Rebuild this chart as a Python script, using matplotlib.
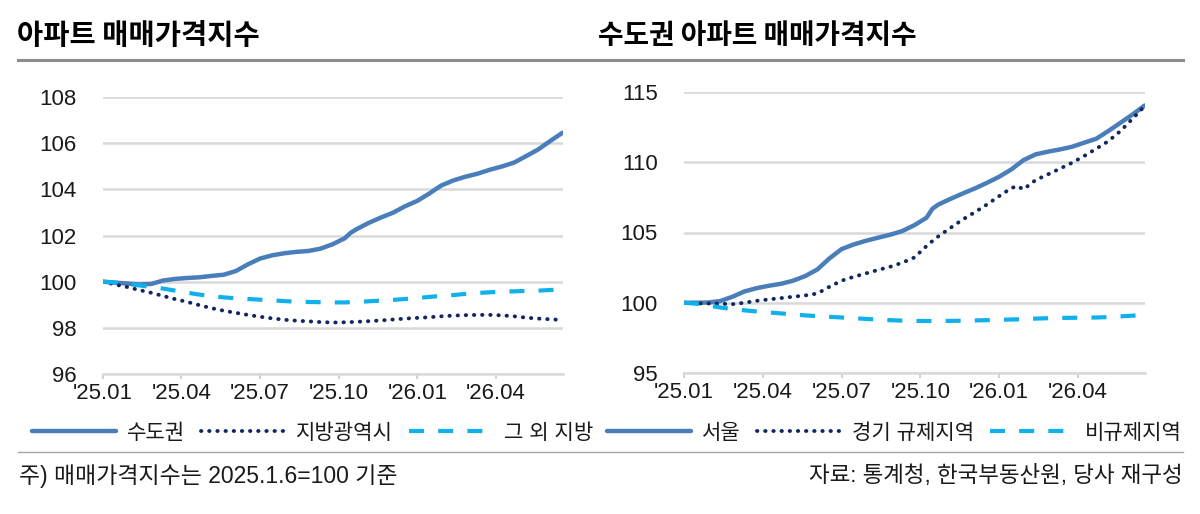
"""
Script to draw the apartment price index charts (nationwide / capital area)
"""

import matplotlib.pyplot as plt
from matplotlib.lines import Line2D

plt.rcParams["font.family"] = ["Liberation Sans", "Noto Sans CJK KR"]

# weeks since 2025-01-06
weeks = [0, 2, 4, 6, 8, 10, 12, 14, 16, 18, 20, 22, 24, 26, 28, 30, 32, 34, 36, 38,
         40, 41, 42, 44, 46, 48, 50, 52, 54, 55, 56, 58, 60, 62, 64, 66, 68, 70, 72, 74, 76]
tick_weeks = [0, 13, 26, 39, 52, 65]
tick_labels = ["'25.01", "'25.04", "'25.07", "'25.10", "'26.01", "'26.04"]

# left chart
capital = [100.00, 99.96, 99.92, 99.88, 99.90, 100.05, 100.12, 100.16, 100.19, 100.25,
           100.30, 100.46, 100.75, 101.00, 101.14, 101.23, 101.29, 101.33, 101.43, 101.62,
           101.88, 102.12, 102.28, 102.55, 102.78, 102.99, 103.27, 103.50, 103.82, 104.00,
           104.17, 104.39, 104.55, 104.68, 104.85, 104.99, 105.16, 105.44, 105.73, 106.10,
           106.45]
metro = [100.00, 99.88, 99.77, 99.64, 99.52, 99.38, 99.24, 99.12, 98.98, 98.85,
         98.74, 98.65, 98.56, 98.48, 98.41, 98.35, 98.31, 98.28, 98.25, 98.23,
         98.24, 98.25, 98.26, 98.29, 98.32, 98.36, 98.40, 98.43, 98.46, 98.48,
         98.50, 98.53, 98.55, 98.56, 98.56, 98.54, 98.50, 98.44, 98.40, 98.37,
         98.34]
other = [100.00, 99.96, 99.90, 99.84, 99.77, 99.70, 99.61, 99.52, 99.44, 99.37,
         99.32, 99.28, 99.25, 99.22, 99.19, 99.16, 99.13, 99.12, 99.11, 99.10,
         99.10, 99.11, 99.12, 99.15, 99.18, 99.21, 99.25, 99.29, 99.34, 99.36,
         99.38, 99.42, 99.47, 99.51, 99.54, 99.57, 99.58, 99.60, 99.61, 99.64,
         99.67]

# right chart
seoul = [100.00, 100.00, 100.02, 100.12, 100.43, 100.81, 101.04, 101.21, 101.35, 101.57,
         101.90, 102.37, 103.16, 103.82, 104.15, 104.41, 104.63, 104.84, 105.10, 105.52,
         106.05, 106.70, 107.00, 107.40, 107.78, 108.14, 108.54, 108.97, 109.49, 109.82,
         110.15, 110.56, 110.75, 110.91, 111.10, 111.39, 111.67, 112.22, 112.81, 113.40,
         114.04]
gyeonggi = [100.00, 99.95, 99.95, 99.93, 99.90, 100.00, 100.14, 100.24, 100.33, 100.43,
            100.52, 100.66, 101.14, 101.57, 101.85, 102.09, 102.33, 102.56, 102.85, 103.22,
            104.03, 104.40, 104.74, 105.34, 105.93, 106.45, 107.00, 107.59, 108.16, 108.30,
            108.07, 108.73, 109.13, 109.54, 109.96, 110.44, 110.96, 111.50, 112.22, 113.10,
            114.00]
nonreg = [100.00, 99.93, 99.81, 99.66, 99.55, 99.46, 99.38, 99.31, 99.24, 99.17,
          99.10, 99.05, 99.00, 98.95, 98.90, 98.85, 98.80, 98.76, 98.73, 98.71,
          98.70, 98.70, 98.70, 98.71, 98.72, 98.74, 98.76, 98.78, 98.81, 98.82,
          98.84, 98.87, 98.90, 98.92, 98.93, 98.94, 98.95, 98.98, 99.03, 99.08,
          99.14]

SOLID = "#4A7EBB"
DOT = "#12275F"
DASH = "#0FB0EC"
GRID = "#d9d9d9"

W, H = 1200, 514
fig = plt.figure(figsize=(12, 5.14), dpi=100)


def styled(ax, series, names, yticks):
    ax.plot(weeks, series[0], color=SOLID, lw=3.2, solid_capstyle="round", label=names[0])
    ax.plot(weeks, series[1], color=DOT, lw=2.8, linestyle=(0, (0.1, 2.0)),
            dash_capstyle="round", label=names[1])
    ax.plot(weeks, series[2], color=DASH, lw=3.0, linestyle=(0, (3.6, 3.4)),
            label=names[2])
    ax.set_xlim(0, 76)
    ax.set_ylim(yticks[0], yticks[-1])
    ax.set_yticks(yticks)
    ax.set_xticks(tick_weeks)
    ax.set_xticklabels(tick_labels)
    ax.yaxis.grid(True, color=GRID, lw=1.8)
    ax.set_axisbelow(True)
    for s in ["top", "right", "left"]:
        ax.spines[s].set_visible(False)
    ax.spines["bottom"].set_color(GRID)
    ax.spines["bottom"].set_linewidth(1.8)
    ax.tick_params(axis="y", length=0, pad=19, labelsize=16, labelcolor="#1a1a1a")
    ax.tick_params(axis="x", length=3.6, width=1.2, color="#c8c8c8", pad=3,
                   labelsize=16, labelcolor="#1a1a1a")


# left panel
ax1 = fig.add_axes([102.7 / W, 1 - 374 / H, (562.5 - 102.7) / W, (374 - 97) / H])
styled(ax1, [capital, metro, other], ["수도권", "지방광역시", "그 외 지방"],
       [96, 98, 100, 102, 104, 106, 108])

# right panel
ax2 = fig.add_axes([684 / W, 1 - 373 / H, (1144.7 - 684) / W, (373 - 92) / H])
styled(ax2, [seoul, gyeonggi, nonreg], ["서울", "경기 규제지역", "비규제지역"],
       [95, 100, 105, 110, 115])

# legends below each panel
for ax, x0 in [(ax1, 32), (ax2, 607)]:
    ax.legend(loc="center left", bbox_to_anchor=(x0 / W, 1 - 433 / H),
              bbox_transform=fig.transFigure, ncol=3, frameon=False,
              fontsize=15.2, handlelength=4.0, handletextpad=0.5,
              columnspacing=0.75, borderpad=0, borderaxespad=0,
              labelcolor="#1a1a1a")

# titles
fig.text(17 / W, 1 - 36 / H, "아파트 매매가격지수", fontsize=20.5, weight="bold",
         family=["Noto Sans CJK KR"], va="center", ha="left")
fig.text(598 / W, 1 - 36 / H, "수도권 아파트 매매가격지수", fontsize=20, weight="bold",
         family=["Noto Sans CJK KR"], va="center", ha="left")

# rules
fig.add_artist(Line2D([18 / W, 1183 / W], [1 - 60 / H, 1 - 60 / H],
                      transform=fig.transFigure, color="#8c8c8c", lw=2.2))
fig.add_artist(Line2D([18 / W, 1183 / W], [1 - 452 / H, 1 - 452 / H],
                      transform=fig.transFigure, color="#a6a6a6", lw=1.0))

# footer
fig.text(19 / W, 1 - 476 / H, "주) 매매가격지수는 2025.1.6=100 기준", fontsize=16.5,
         va="center", ha="left", color="#1a1a1a")
fig.text(1183 / W, 1 - 476 / H, "자료: 통계청, 한국부동산원, 당사 재구성", fontsize=16.2,
         va="center", ha="right", color="#1a1a1a")

plt.savefig("out.png", dpi=100)
